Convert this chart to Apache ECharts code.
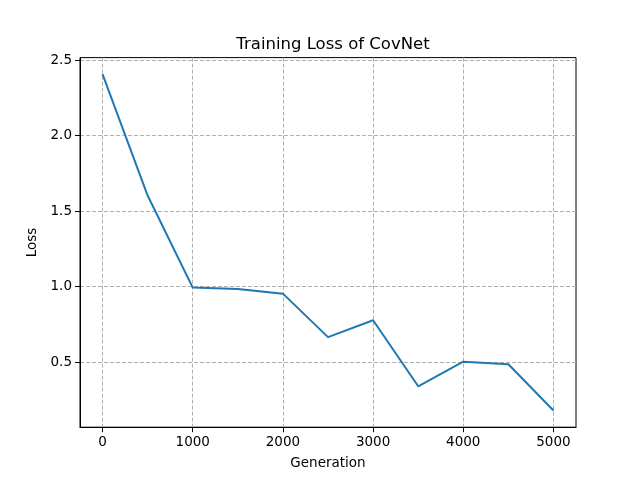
<!DOCTYPE html>
<html>
<head>
<meta charset="utf-8">
<script src="https://cdn.jsdelivr.net/npm/echarts@6/dist/echarts.min.js"></script>
<style>
  html, body { margin: 0; padding: 0; background: #fff; }
  #chart { width: 640px; height: 480px; }
</style>
</head>
<body>
<div id="chart"></div>
<script>
// data
const generations = [0, 500, 1000, 1500, 2000, 2500, 3000, 3500, 4000, 4500, 5000];
const loss = [2.407, 1.603, 0.993, 0.984, 0.953, 0.665, 0.777, 0.339, 0.502, 0.485, 0.179];
const xTicks = [0, 1000, 2000, 3000, 4000, 5000];
const yTicks = [0.5, 1.0, 1.5, 2.0, 2.5];

const font = 'DejaVu Sans';
const gridLine = { show: true, lineStyle: { color: '#b0b0b0', width: 1, type: [4, 2] } };

const chart = echarts.init(document.getElementById('chart'));
chart.setOption({
  animation: false,
  backgroundColor: '#fff',
  title: {
    text: 'Training Loss of CovNet',
    left: 328, top: 31, textAlign: 'center',
    textStyle: { fontFamily: font, fontSize: 16.5, fontWeight: 'normal', color: '#000' }
  },
  grid: {
    left: 80, right: 64, top: 57.6, bottom: 52.8,
    show: true, borderColor: '#000', borderWidth: 1, backgroundColor: 'transparent'
  },
  xAxis: {
    type: 'value', min: -250, max: 5250,
    name: 'Generation', nameLocation: 'middle', nameGap: 29,
    nameTextStyle: { fontFamily: font, fontSize: 13.5, color: '#000' },
    axisLine: { show: true, onZero: false, lineStyle: { color: '#000', width: 1 } },
    axisTick: { show: true, inside: false, length: 5, customValues: xTicks, lineStyle: { color: '#000' } },
    axisLabel: {
      customValues: xTicks, margin: 8, fontFamily: font, fontSize: 13.5, color: '#000',
      formatter: v => String(v)
    },
    splitLine: gridLine
  },
  yAxis: {
    type: 'value', min: 0.068, max: 2.517,
    name: 'Loss', nameLocation: 'middle', nameGap: 37,
    nameTextStyle: { fontFamily: font, fontSize: 13.5, color: '#000' },
    axisLine: { show: true, onZero: false, lineStyle: { color: '#000', width: 1 } },
    axisTick: { show: true, inside: false, length: 5, customValues: yTicks, lineStyle: { color: '#000' } },
    axisLabel: {
      customValues: yTicks, margin: 8, fontFamily: font, fontSize: 13.5, color: '#000',
      formatter: v => v.toFixed(1)
    },
    splitLine: gridLine
  },
  series: [{
    type: 'line',
    data: generations.map((g, i) => [g, loss[i]]),
    showSymbol: false,
    lineStyle: { color: '#1f77b4', width: 2 },
    itemStyle: { color: '#1f77b4' }
  }]
});
</script>
</body>
</html>
